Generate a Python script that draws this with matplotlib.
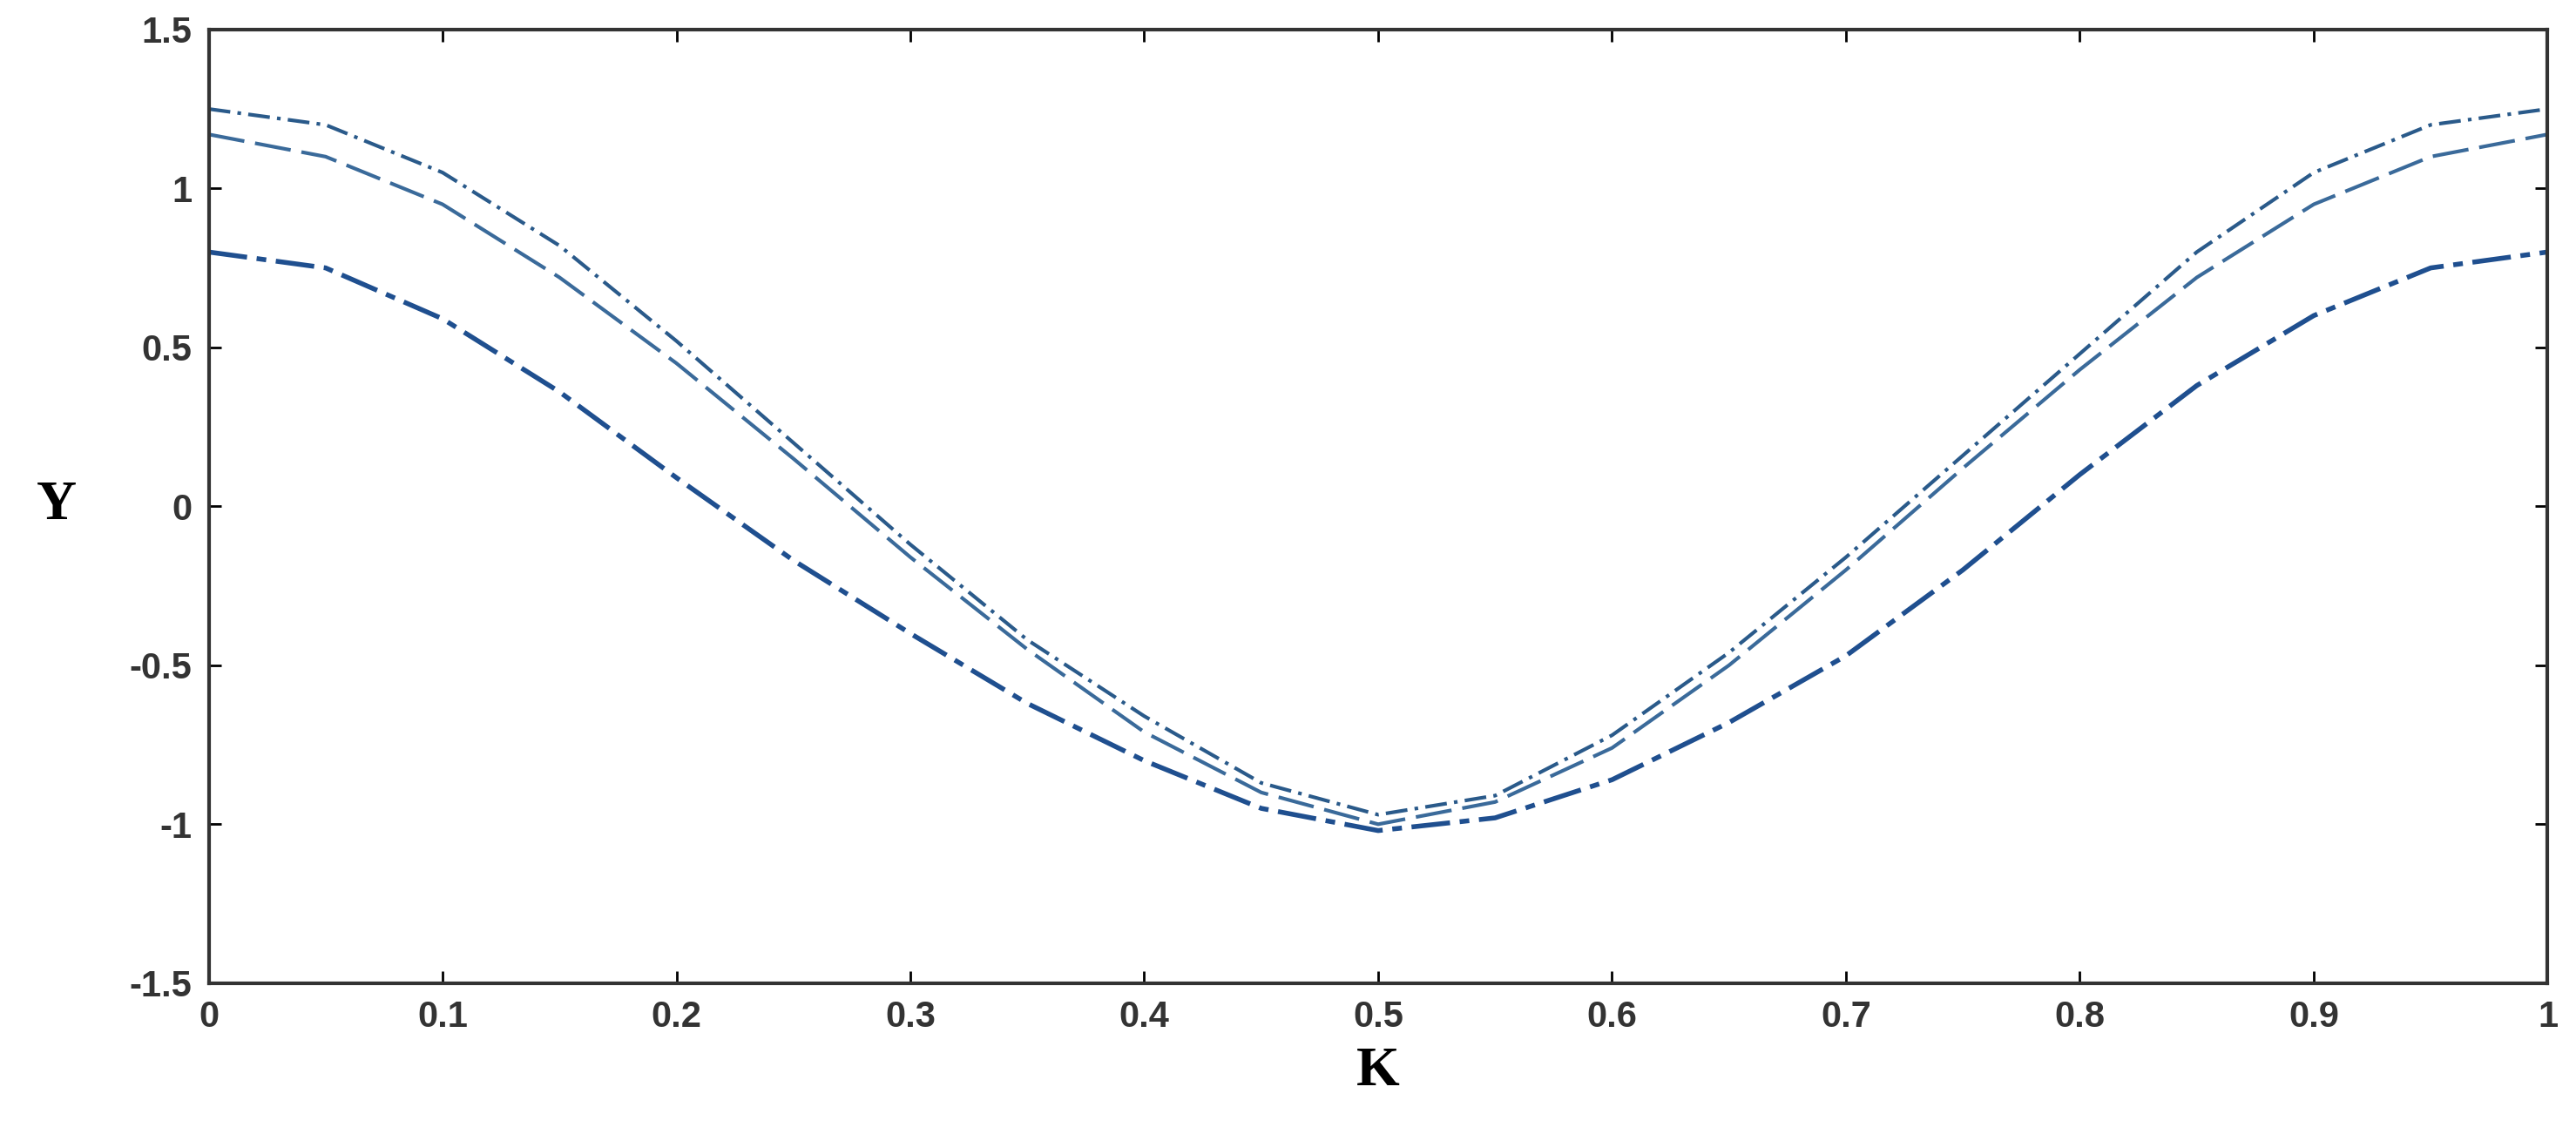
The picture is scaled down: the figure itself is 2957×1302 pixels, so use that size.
import matplotlib
matplotlib.use("Agg")
import matplotlib.pyplot as plt

K = [0, 0.05, 0.1, 0.15, 0.2, 0.25, 0.3, 0.35, 0.4, 0.45, 0.5,
     0.55, 0.6, 0.65, 0.7, 0.75, 0.8, 0.85, 0.9, 0.95, 1.0]
y_low = [0.80, 0.75, 0.59, 0.36, 0.09, -0.17, -0.40, -0.62, -0.80, -0.95, -1.02,
         -0.98, -0.86, -0.68, -0.47, -0.20, 0.10, 0.38, 0.60, 0.75, 0.80]
y_mid = [1.17, 1.10, 0.95, 0.72, 0.45, 0.15, -0.16, -0.45, -0.71, -0.90, -1.00,
         -0.93, -0.76, -0.50, -0.20, 0.12, 0.43, 0.72, 0.95, 1.10, 1.17]
y_top = [1.25, 1.20, 1.05, 0.82, 0.52, 0.20, -0.12, -0.42, -0.66, -0.87, -0.97,
         -0.91, -0.72, -0.46, -0.16, 0.16, 0.48, 0.80, 1.05, 1.20, 1.25]
xticks = [0, 0.1, 0.2, 0.3, 0.4, 0.5, 0.6, 0.7, 0.8, 0.9, 1]
xticklabels = ["0", "0.1", "0.2", "0.3", "0.4", "0.5", "0.6", "0.7", "0.8", "0.9", "1"]
yticks = [-1.5, -1, -0.5, 0, 0.5, 1, 1.5]
yticklabels = ["-1.5", "-1", "-0.5", "0", "0.5", "1", "1.5"]

fig = plt.figure(figsize=(29.57, 13.02), dpi=100)
ax = fig.add_axes([0.081, 0.133, 0.908, 0.841])
ax.plot(K, y_low, color="#1f4f8f", lw=4, ls=(0, (8, 2, 2, 2)))
ax.plot(K, y_mid, color="#3a6a9a", lw=3, ls=(0, (10, 3)))
ax.plot(K, y_top, color="#2a5a8a", lw=3, ls=(0, (6, 2, 1, 2)))
ax.set_xlim(0, 1)
ax.set_ylim(-1.5, 1.5)
ax.set_xticks(xticks)
ax.set_xticklabels(xticklabels)
ax.set_yticks(yticks)
ax.set_yticklabels(yticklabels)
ax.tick_params(direction="in", top=True, right=True, length=10, width=2,
               labelsize=30, pad=14)
for lab in ax.get_xticklabels() + ax.get_yticklabels():
    lab.set_fontweight("bold")
    lab.set_family("Liberation Sans")
    lab.set_color("#333333")
for s in ax.spines.values():
    s.set_linewidth(3)
    s.set_color("#333333")
ax.set_xlabel("K", fontsize=46, fontweight="bold", family="Liberation Serif", labelpad=10)
ax.set_ylabel("Y", fontsize=46, fontweight="bold", family="Liberation Serif",
              rotation=0, labelpad=60, va="center")
fig.savefig("out.png", dpi=100)
